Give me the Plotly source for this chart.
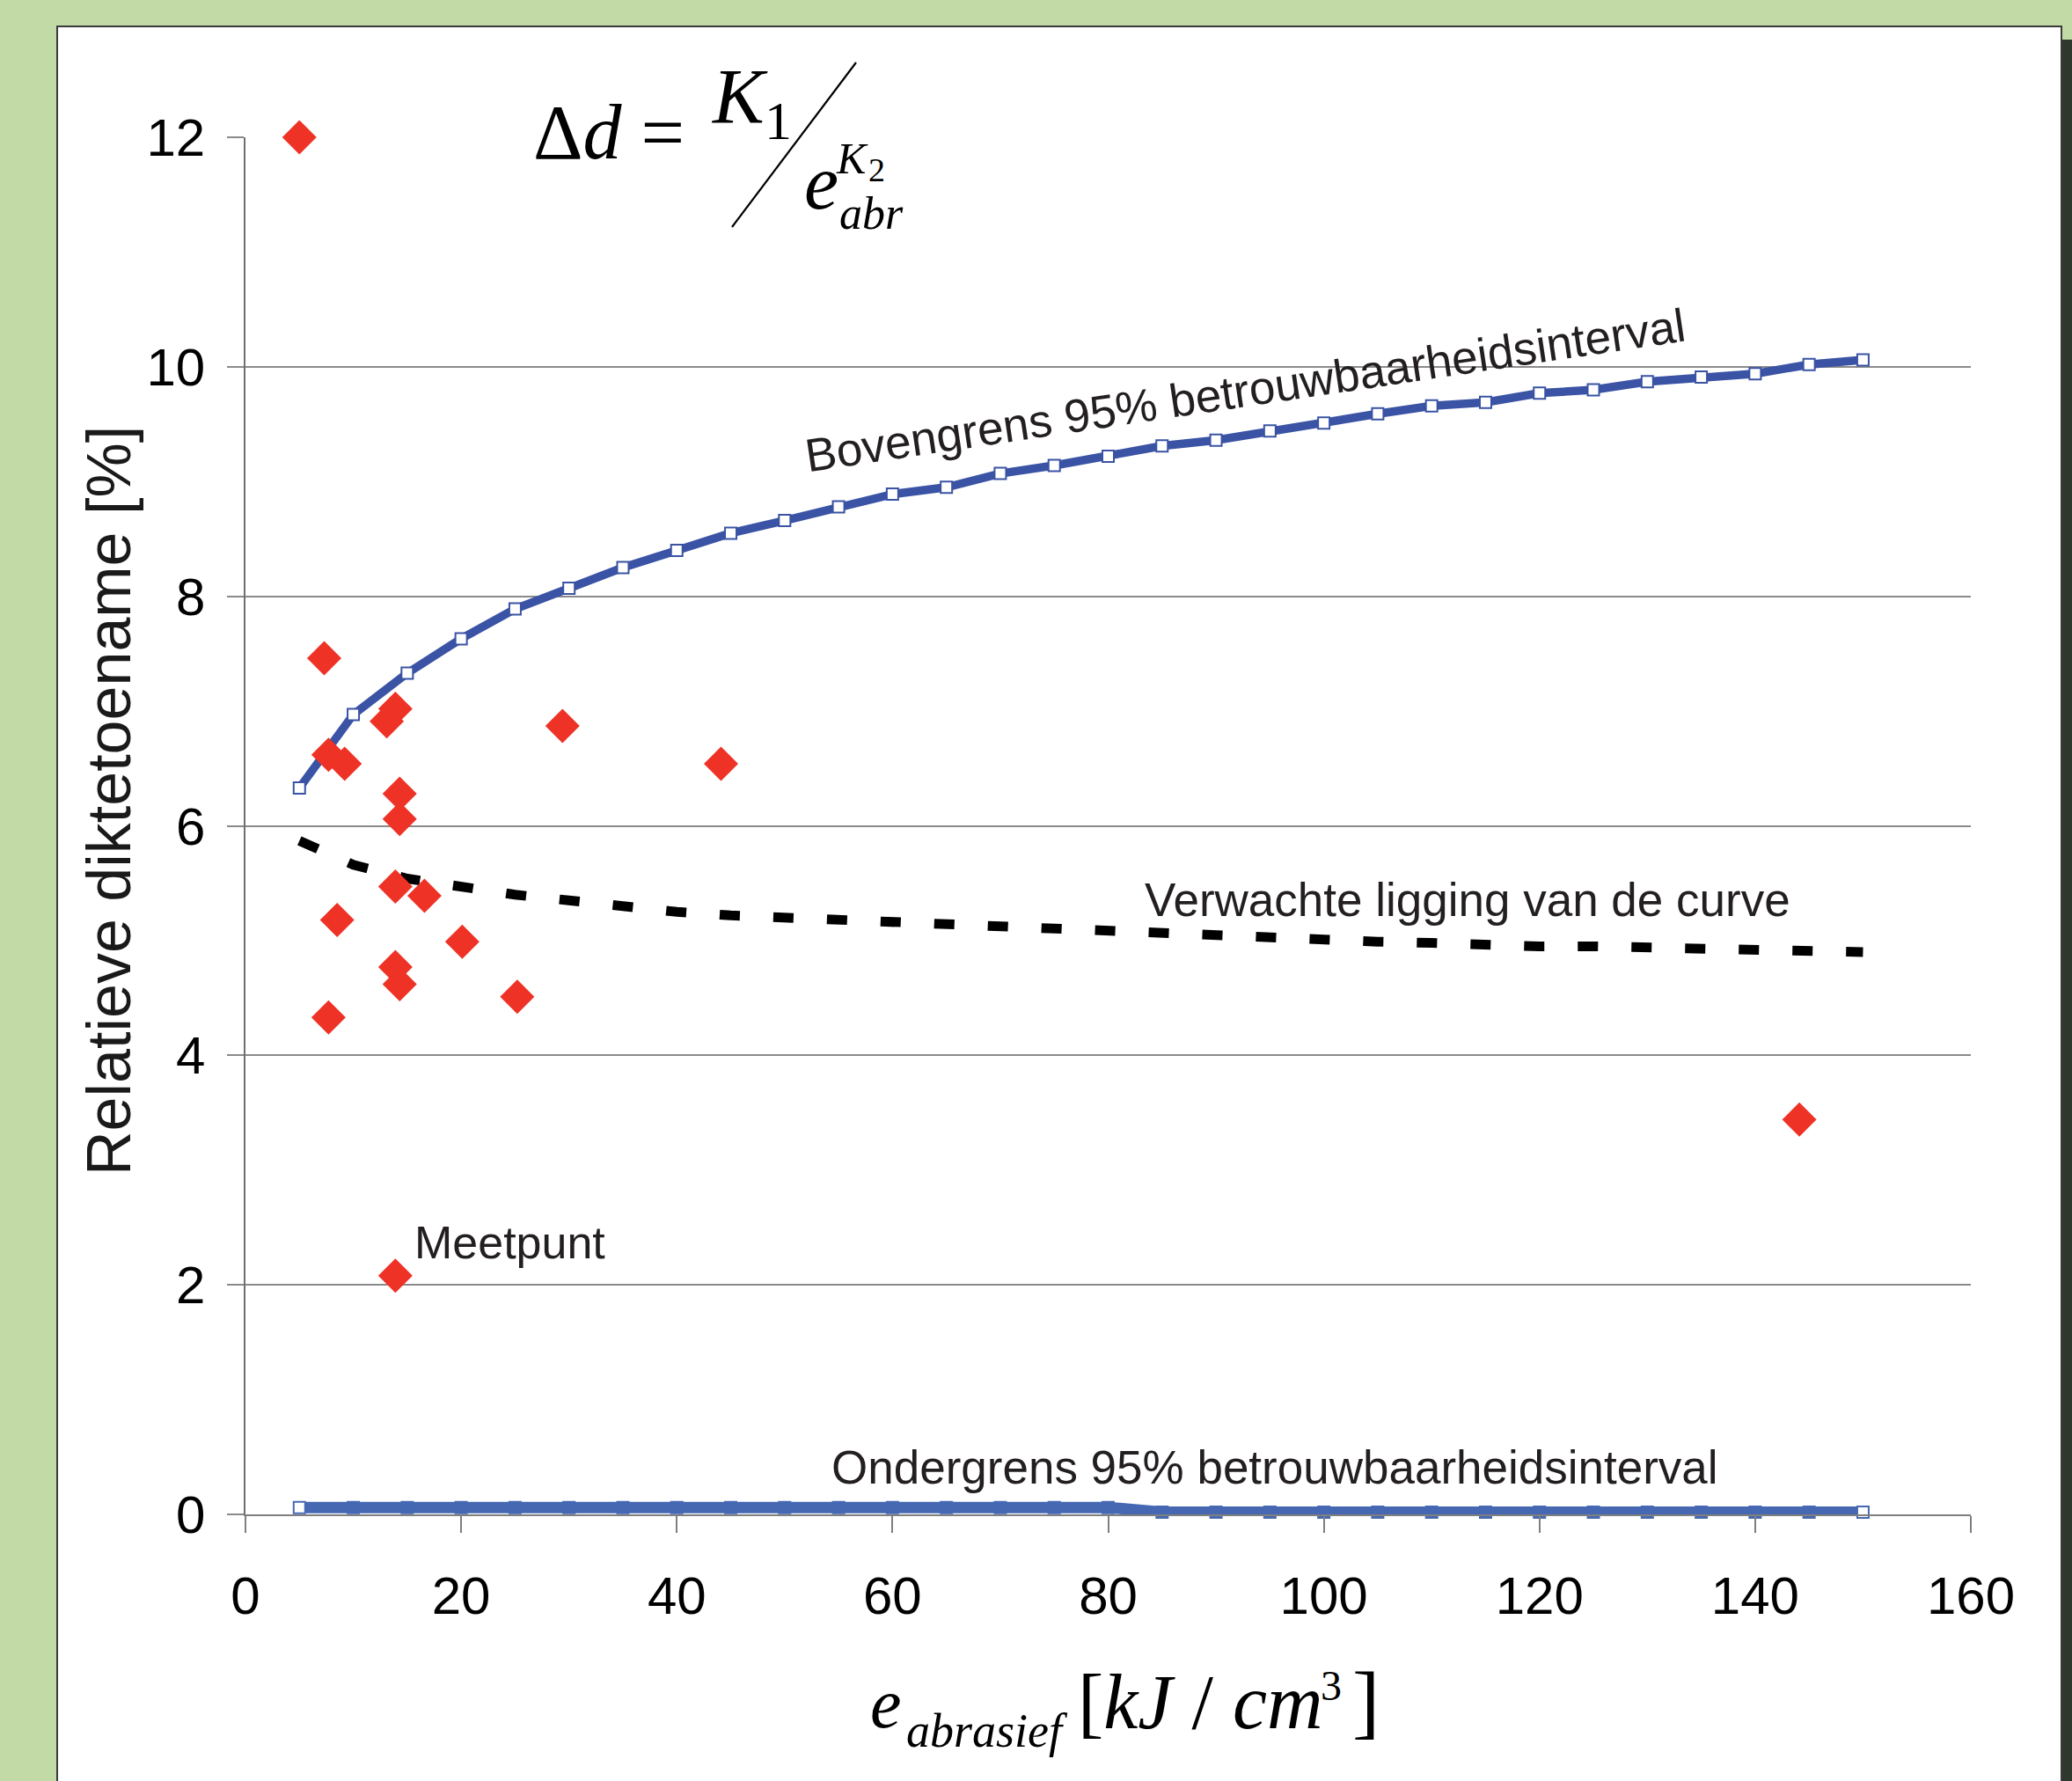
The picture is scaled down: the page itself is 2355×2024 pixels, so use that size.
import plotly.graph_objects as go

# ---------------- data ----------------
x_bounds = [5, 10, 15, 20, 25, 30, 35, 40, 45, 50, 55, 60, 65, 70, 75,
            80, 85, 90, 95, 100, 105, 110, 115, 120, 125, 130, 135, 140, 145, 150]
upper_bound = [6.33, 6.97, 7.33, 7.63, 7.89, 8.07, 8.25, 8.40, 8.55, 8.66,
               8.78, 8.89, 8.95, 9.07, 9.14, 9.22, 9.31, 9.36, 9.44, 9.51,
               9.59, 9.66, 9.69, 9.77, 9.80, 9.87, 9.91, 9.94, 10.02, 10.06]
lower_bound = [0.06, 0.06, 0.06, 0.06, 0.06, 0.06, 0.06, 0.06, 0.06, 0.06,
               0.06, 0.06, 0.06, 0.06, 0.06, 0.06, 0.02, 0.02, 0.02, 0.02,
               0.02, 0.02, 0.02, 0.02, 0.02, 0.02, 0.02, 0.02, 0.02, 0.02]
expected = [5.87, 5.66, 5.54, 5.46, 5.40, 5.35, 5.29, 5.25, 5.22, 5.20,
            5.18, 5.16, 5.14, 5.12, 5.10, 5.07, 5.05, 5.03, 5.01, 5.00,
            4.99, 4.98, 4.96, 4.95, 4.95, 4.94, 4.92, 4.92, 4.91, 4.90]

meas_x = [5.0, 7.3, 7.7, 9.2, 8.5, 7.7, 13.1, 13.9, 14.3, 14.3,
          13.9, 16.6, 13.9, 14.3, 20.1, 25.2, 29.4, 44.1, 13.9, 144.1]
meas_y = [12.0, 7.46, 6.62, 6.54, 5.18, 4.33, 6.91, 7.02, 6.28, 6.06,
          5.47, 5.39, 4.77, 4.62, 4.99, 4.51, 6.87, 6.54, 2.08, 3.44]

x_ticks = [0, 20, 40, 60, 80, 100, 120, 140, 160]
y_ticks = [0, 2, 4, 6, 8, 10, 12]

# ---------------- geometry ----------------
W, H = 2355, 2024
L, R, T, B = 279, 2240, 156, 1721

def px(xp):
    return (xp - L) / (R - L)

def py(yp):
    return (B - yp) / (B - T)

SANS = "Liberation Sans, Arial, sans-serif"
SERIF = "Liberation Serif, Times New Roman, serif"
TXT = "#231f20"
BLUE = "#3a53a4"
BLUE2 = "#4668b3"
RED = "#ee3226"

fig = go.Figure()

fig.add_trace(go.Scatter(
    x=x_bounds, y=upper_bound, mode="lines+markers",
    line=dict(color=BLUE, width=9.5),
    marker=dict(symbol="square", size=13, color="white",
                line=dict(color=BLUE, width=2)),
    cliponaxis=False, showlegend=False))

lower_marker_colors = ["white"] + [BLUE2] * (len(x_bounds) - 2) + ["white"]
fig.add_trace(go.Scatter(
    x=x_bounds, y=lower_bound, mode="lines+markers",
    line=dict(color=BLUE2, width=13),
    marker=dict(symbol="square", size=13, color=lower_marker_colors,
                line=dict(color=BLUE2, width=2)),
    cliponaxis=False, showlegend=False))

fig.add_trace(go.Scatter(
    x=x_bounds, y=expected, mode="lines",
    line=dict(color="black", width=11, dash="23px,38px"),
    cliponaxis=False, showlegend=False))

fig.add_trace(go.Scatter(
    x=meas_x, y=meas_y, mode="markers",
    marker=dict(symbol="diamond", size=30, color=RED, line=dict(width=0)),
    cliponaxis=False, showlegend=False))

# ---------------- shapes ----------------
shapes = [
    # dark shadow at the right edge (panel covers its left part)
    dict(type="rect", xref="paper", yref="paper", layer="below",
         x0=px(2300), x1=px(2400), y0=py(45), y1=py(2100),
         fillcolor="#2f382d", line=dict(width=0)),
    # white panel
    dict(type="rect", xref="paper", yref="paper", layer="below",
         x0=px(65), x1=px(2343), y0=py(30), y1=py(2060),
         fillcolor="white", line=dict(color="#3a3a3a", width=2)),
    # white gap in the 12 gridline behind the formula
    dict(type="rect", xref="paper", yref="paper", layer="above",
         x0=px(581), x1=px(1058), y0=py(163), y1=py(149),
         fillcolor="white", line=dict(width=0)),
    # fraction slash
    dict(type="line", xref="paper", yref="paper", layer="above",
         x0=px(832), y0=py(258), x1=px(973), y1=py(71),
         line=dict(color="black", width=2.2)),
]

annotations = []

def ann(text, xpix, ybase, size, font=SANS, color="black", angle=0):
    k = 0.3375 if font == SERIF else 0.3465
    annotations.append(dict(
        text=text, xref="paper", yref="paper",
        x=px(xpix), y=py(ybase - k * size),
        xanchor="left", yanchor="middle", showarrow=False, borderpad=0,
        textangle=angle, font=dict(family=font, size=size, color=color)))

def annc(text, xpix, ycen, size, font=SANS, color=TXT, angle=0):
    annotations.append(dict(
        text=text, xref="paper", yref="paper",
        x=px(xpix), y=py(ycen), xanchor="center", yanchor="middle",
        showarrow=False, textangle=angle,
        font=dict(family=font, size=size, color=color)))

# curve labels
annc("Bovengrens 95% betrouwbaarheidsinterval", 1415, 444, 53, angle=-8.5)
annc("Verwachte ligging van de curve", 1668, 1022, 53)
annc("Meetpunt", 579, 1412, 52)
annc("Ondergrens 95% betrouwbaarheidsinterval", 1449, 1667, 53)

# y axis title
annc("Relatieve diktetoename [%]", 124, 910, 70, color="#1a1a1a", angle=-90)

# formula  Δd = K1 / e_abr^K2
ann("Δ<i>d</i> =", 605, 180, 88, font=SERIF)
ann("<i>K</i>", 807, 139, 88, font=SERIF)
ann("1", 868, 158, 62, font=SERIF)
ann("<i>e</i>", 913, 237, 88, font=SERIF)
ann("<i>K</i>", 949, 197, 50, font=SERIF)
ann("2", 986, 206, 38, font=SERIF)
ann("<i>abr</i>", 953, 260, 52, font=SERIF)

# x axis title  e_abrasief [kJ / cm^3]
ann("<i>e</i>", 988, 1963, 80, font=SERIF)
ann("<i>abrasief</i>", 1029, 1985, 54, font=SERIF)
ann("[<i>kJ</i> / <i>cm</i>", 1224, 1964, 88, font=SERIF)
ann("3", 1500, 1932, 48, font=SERIF)
ann("]", 1536, 1965, 94, font=SERIF)

fig.update_layout(
    width=W, height=H,
    margin=dict(l=L, r=W - R, t=T, b=H - B, pad=0),
    paper_bgcolor="#c2dba6",
    plot_bgcolor="white",
    shapes=shapes,
    annotations=annotations,
    showlegend=False,
    xaxis=dict(range=[0, 160], tickvals=x_ticks, ticktext=[str(v) for v in x_ticks],
               showgrid=False, zeroline=False, showline=True,
               linecolor="#7f7f7f", linewidth=1.5,
               ticks="outside", ticklen=19, tickwidth=1.5, tickcolor="#7f7f7f",
               ticklabelstandoff=20,
               tickfont=dict(family=SANS, size=60, color="black")),
    yaxis=dict(range=[0, 12], tickvals=y_ticks, ticktext=[str(v) for v in y_ticks],
               showgrid=True, gridcolor="#8a8a8a", gridwidth=2,
               zeroline=False, showline=True,
               linecolor="#6f6f6f", linewidth=1.5,
               ticks="outside", ticklen=19, tickwidth=2, tickcolor="#8a8a8a",
               ticklabelstandoff=13,
               tickfont=dict(family=SANS, size=60, color="black")),
)

fig.write_html(
    "out.html",
    config={"displayModeBar": False},
    post_script="document.body.style.margin='0px';document.body.style.overflow='hidden';",
)
